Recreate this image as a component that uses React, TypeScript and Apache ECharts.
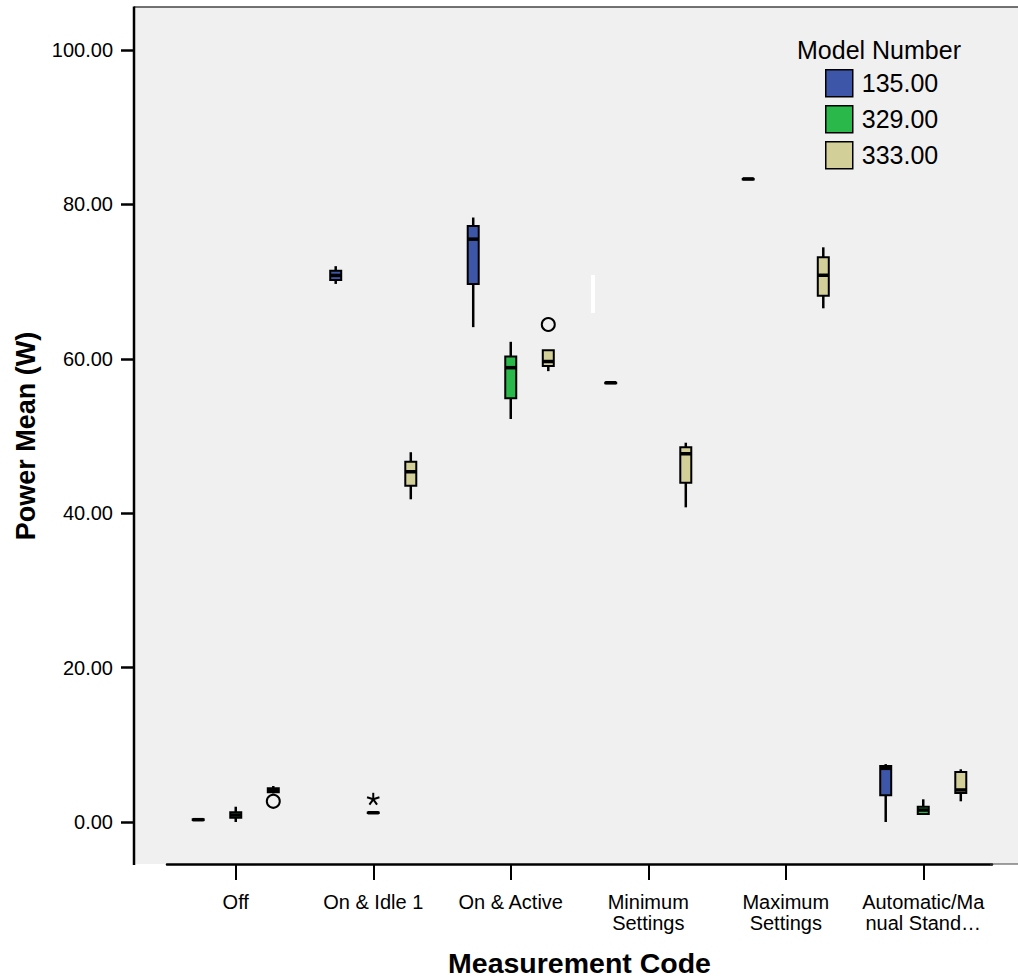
import React, { useEffect, useRef } from 'react';
import * as echarts from 'echarts';

const categories = ['Off', 'On & Idle 1', 'On & Active', 'Minimum\nSettings', 'Maximum\nSettings', 'Automatic/Ma\nnual Stand…'];
const models = ['135.00', '329.00', '333.00'];
const colors = ['#3d56a8', '#2bb84b', '#d3cf98'];
const yTicks = { min: 0, max: 100, interval: 20 };

// [min, q1, median, q3, max] per category (null = no data)
const box135: (number[] | null)[] = [
  [0.2, 0.25, 0.3, 0.35, 0.4],
  [69.7, 70.2, 70.8, 71.4, 72.0],
  [64.1, 69.7, 75.5, 77.2, 78.3],
  [56.9, 56.9, 56.9, 56.9, 56.9],
  [83.3, 83.3, 83.3, 83.3, 83.3],
  [0.0, 3.46, 6.95, 7.25, 7.5],
];
const box329: (number[] | null)[] = [
  [0.0, 0.56, 0.9, 1.26, 1.98],
  [1.15, 1.17, 1.2, 1.23, 1.25],
  [52.2, 54.9, 58.85, 60.3, 62.2],
  null,
  null,
  [1.0, 1.04, 1.55, 1.98, 2.94],
];
const box333: (number[] | null)[] = [
  [3.7, 3.85, 4.1, 4.37, 4.66],
  [41.8, 43.56, 45.37, 46.67, 47.9],
  [58.4, 59.07, 59.65, 61.1, 61.1],
  [40.76, 43.95, 47.7, 48.54, 49.13],
  [66.54, 68.17, 70.82, 73.15, 74.44],
  [2.68, 3.76, 4.15, 6.48, 6.83],
];
// outliers: [categoryIndex, value]
const outliers135: number[][] = [];
const outliers329: number[][] = [];
const outliers333: number[][] = [[0, 2.68], [2, 64.44]];
// extreme values (asterisk): [categoryIndex, value]
const extremes135: number[][] = [];
const extremes329: number[][] = [[1, 2.94]];
const extremes333: number[][] = [];

const boxes = [box135, box329, box333];
const outliers = [outliers135, outliers329, outliers333];
const extremes = [extremes135, extremes329, extremes333];
const offsetFrac = [-0.273, 0, 0.273];

const FONT = '"Liberation Sans", Arial, sans-serif';

function buildSeries(idx: number) {
  const data: any[] = [];
  boxes[idx].forEach((b, i) => {
    if (b) data.push([i, 0, ...b]);
  });
  outliers[idx].forEach((o) => data.push([o[0], 1, o[1], o[1], o[1], o[1], o[1]]));
  extremes[idx].forEach((o) => data.push([o[0], 2, o[1], o[1], o[1], o[1], o[1]]));
  const color = colors[idx];
  return {
    type: 'custom',
    name: models[idx],
    itemStyle: { color },
    encode: { x: 0, y: [2, 3, 4, 5, 6] },
    data,
    renderItem: (params: any, api: any) => {
      const cat = api.value(0);
      const kind = api.value(1);
      const bw = api.size([1, 0])[0];
      const off = offsetFrac[idx] * bw;
      const half = bw * 0.04;
      const pMin = api.coord([cat, api.value(2)]);
      const x = pMin[0] + off;
      if (kind === 0) {
        const yMin = pMin[1];
        const yQ1 = api.coord([cat, api.value(3)])[1];
        const yMed = api.coord([cat, api.value(4)])[1];
        const yQ3 = api.coord([cat, api.value(5)])[1];
        const yMax = api.coord([cat, api.value(6)])[1];
        return {
          type: 'group',
          children: [
            { type: 'line', shape: { x1: x, y1: yMin, x2: x, y2: yMax }, style: { stroke: '#000', lineWidth: 2.5 } },
            { type: 'rect', shape: { x: x - half, y: yQ3, width: 2 * half, height: Math.max(yQ1 - yQ3, 0.5) }, style: { fill: color, stroke: '#000', lineWidth: 2 } },
            { type: 'line', shape: { x1: x - half, y1: yMed, x2: x + half, y2: yMed }, style: { stroke: '#000', lineWidth: 3.5 } },
          ],
        };
      }
      const y = pMin[1];
      if (kind === 1) {
        return { type: 'circle', shape: { cx: x, cy: y, r: 6.5 }, style: { fill: 'none', stroke: '#000', lineWidth: 2 } };
      }
      const arms: any[] = [];
      const r = 6.5;
      for (let k = 0; k < 5; k++) {
        const a = (-90 + k * 72) * Math.PI / 180;
        arms.push({ type: 'line', shape: { x1: x, y1: y, x2: x + r * Math.cos(a), y2: y + r * Math.sin(a) }, style: { stroke: '#000', lineWidth: 2 } });
      }
      return { type: 'group', children: arms };
    },
  };
}

export default function App() {
  const ref = useRef<HTMLDivElement>(null);
  useEffect(() => {
    if (!ref.current) return;
    const chart = echarts.init(ref.current, null, { renderer: 'svg' });
    chart.setOption({
      animation: false,
      backgroundColor: '#fff',
      textStyle: { fontFamily: FONT },
      grid: { left: 167, right: 26, top: 50, bottom: 157, containLabel: false, outerBoundsMode: 'none' },
      graphic: [
        { type: 'rect', z: -10, shape: { x: 134, y: 7, width: 900, height: 857 }, style: { fill: '#f0f0f0' } },
        { type: 'line', z: 100, shape: { x1: 134, y1: 7, x2: 1018, y2: 7 }, style: { stroke: '#444', lineWidth: 1.5 } },
        { type: 'line', z: 100, shape: { x1: 990, y1: 864, x2: 1018, y2: 864 }, style: { stroke: '#444', lineWidth: 1 } },
        { type: 'line', z: 100, shape: { x1: 134, y1: 6.5, x2: 134, y2: 865 }, style: { stroke: '#000', lineWidth: 2.5 } },
        { type: 'rect', z: 50, shape: { x: 591, y: 275, width: 4, height: 38 }, style: { fill: '#ffffff' } },
        { type: 'text', z: 100, x: 797, y: 49.5, style: { text: 'Model Number', fontSize: 25, fontFamily: FONT, fill: '#000', verticalAlign: 'middle', align: 'left' } },
      ],
      legend: {
        orient: 'vertical',
        left: 825,
        top: 69,
        padding: 0,
        itemWidth: 27,
        itemHeight: 27,
        itemGap: 7.5,
        selectedMode: false,
        icon: 'rect',
        itemStyle: { borderColor: '#000', borderWidth: 1.5 },
        textStyle: { fontSize: 25, color: '#000', fontFamily: FONT, lineHeight: 27, padding: [0, 0, 0, 4] },
        data: models,
      },
      xAxis: {
        type: 'category',
        data: categories,
        offset: 42,
        axisLine: { show: true, onZero: false, lineStyle: { color: '#000', width: 2.5 } },
        axisTick: { show: true, alignWithLabel: true, length: 16, lineStyle: { color: '#000', width: 2 } },
        axisLabel: { interval: 0, fontSize: 20, lineHeight: 21, color: '#000', margin: 27, fontFamily: FONT },
        splitLine: { show: false },
        name: 'Measurement Code',
        nameLocation: 'middle',
        nameGap: 84,
        nameTextStyle: { fontSize: 28.5, fontWeight: 'bold', color: '#000', fontFamily: FONT },
      },
      yAxis: {
        type: 'value',
        min: yTicks.min,
        max: yTicks.max,
        interval: yTicks.interval,
        offset: 33,
        axisLine: { show: false },
        axisTick: { show: true, length: 13, lineStyle: { color: '#000', width: 2.5 } },
        axisLabel: { fontSize: 20, color: '#000', margin: 21, fontFamily: FONT, formatter: (v: number) => v.toFixed(2) },
        splitLine: { show: false },
        name: 'Power Mean (W)',
        nameLocation: 'middle',
        nameGap: 95,
        nameTextStyle: { fontSize: 27, fontWeight: 'bold', color: '#000', fontFamily: FONT },
      },
      series: [buildSeries(0), buildSeries(1), buildSeries(2)],
    });
    return () => chart.dispose();
  }, []);
  return <div ref={ref} style={{ position: 'fixed', left: 0, top: 0, width: 1018, height: 979 }} />;
}
